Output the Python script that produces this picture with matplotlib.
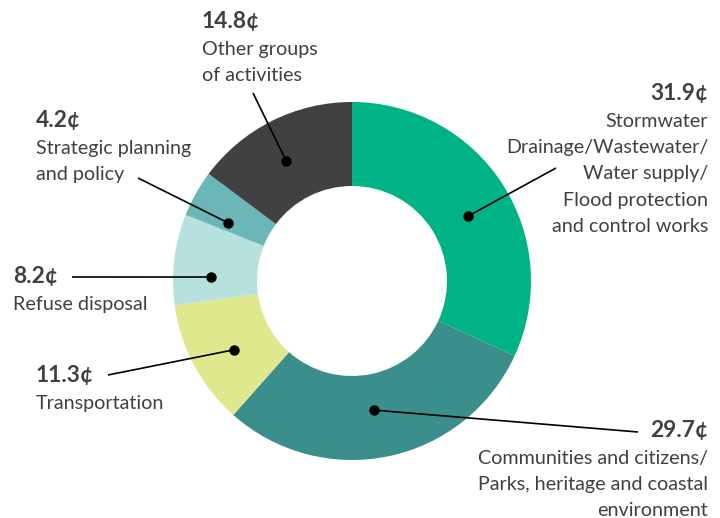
import numpy as np
import matplotlib
matplotlib.use("Agg")
import matplotlib.pyplot as plt

# Spending per dollar (cents), clockwise from 12 o'clock
values = [31.9, 29.7, 11.3, 8.2, 4.2, 14.8]
amount_labels = ["31.9¢", "29.7¢", "11.3¢", "8.2¢", "4.2¢", "14.8¢"]
descriptions = [
    ["Stormwater", "Drainage/Wastewater/", "Water supply/", "Flood protection", "and control works"],
    ["Communities and citizens/", "Parks, heritage and coastal", "environment"],
    ["Transportation"],
    ["Refuse disposal"],
    ["Strategic planning", "and policy"],
    ["Other groups", "of activities"],
]
colors = ["#00b386", "#3a8f8c", "#dfe88c", "#b7e1dc", "#6bb7b8", "#414143"]

W, H = 720, 518
FONT = ["Lato", "DejaVu Sans"]
TEXT = "#404040"

fig = plt.figure(figsize=(W / 100, H / 100), dpi=100)
ax = fig.add_axes([0, 0, 1, 1])

cx, cy, R, hole = 352, H - 281, 179, 95
wedges, _ = ax.pie(values, colors=colors, startangle=90, counterclock=False,
                   radius=R, center=(cx, cy), frame=True,
                   wedgeprops=dict(width=R - hole, linewidth=0))
ax.set_xlim(0, W)
ax.set_ylim(0, H)
ax.set_aspect("equal")
ax.axis("off")

# where inside each wedge the leader dot sits (fraction of the angular span)
dot_frac = [0.47, 0.48, 0.55, 0.68, 0.77, 0.54]
dot_r = [133, 131, 137, 141, 137, 137]
# label block: (x, baseline of amount line, alignment, leader end x, leader end y)
layout = [
    (708, 100, "right", 556, 168),
    (708, 437, "right", 638, 432),
    (36, 382, "left", 108, 375),
    (13, 283, "left", 72, 277),
    (36, 127, "left", 138, 178),
    (202, 28, "left", 253, 93),
]
line_gap = 26.2

for w, f, r, amt, desc, (tx, base, ha, lx, ly) in zip(
        wedges, dot_frac, dot_r, amount_labels, descriptions, layout):
    ang = np.deg2rad(w.theta1 + f * (w.theta2 - w.theta1))
    px, py = cx + r * np.cos(ang), cy + r * np.sin(ang)
    ax.plot([lx, px], [H - ly, py], color="black", lw=1.2, solid_capstyle="butt", zorder=3)
    ax.plot(px, py, "o", color="black", ms=6.5, zorder=4)
    ax.text(tx, H - base, amt, ha=ha, va="baseline", fontsize=16.4,
            fontweight="bold", color=TEXT, family=FONT)
    for k, line in enumerate(desc):
        ax.text(tx, H - (base + 27 + k * line_gap), line, ha=ha, va="baseline",
                fontsize=14.2, color=TEXT, family=FONT)

fig.savefig("out.png", dpi=100)
